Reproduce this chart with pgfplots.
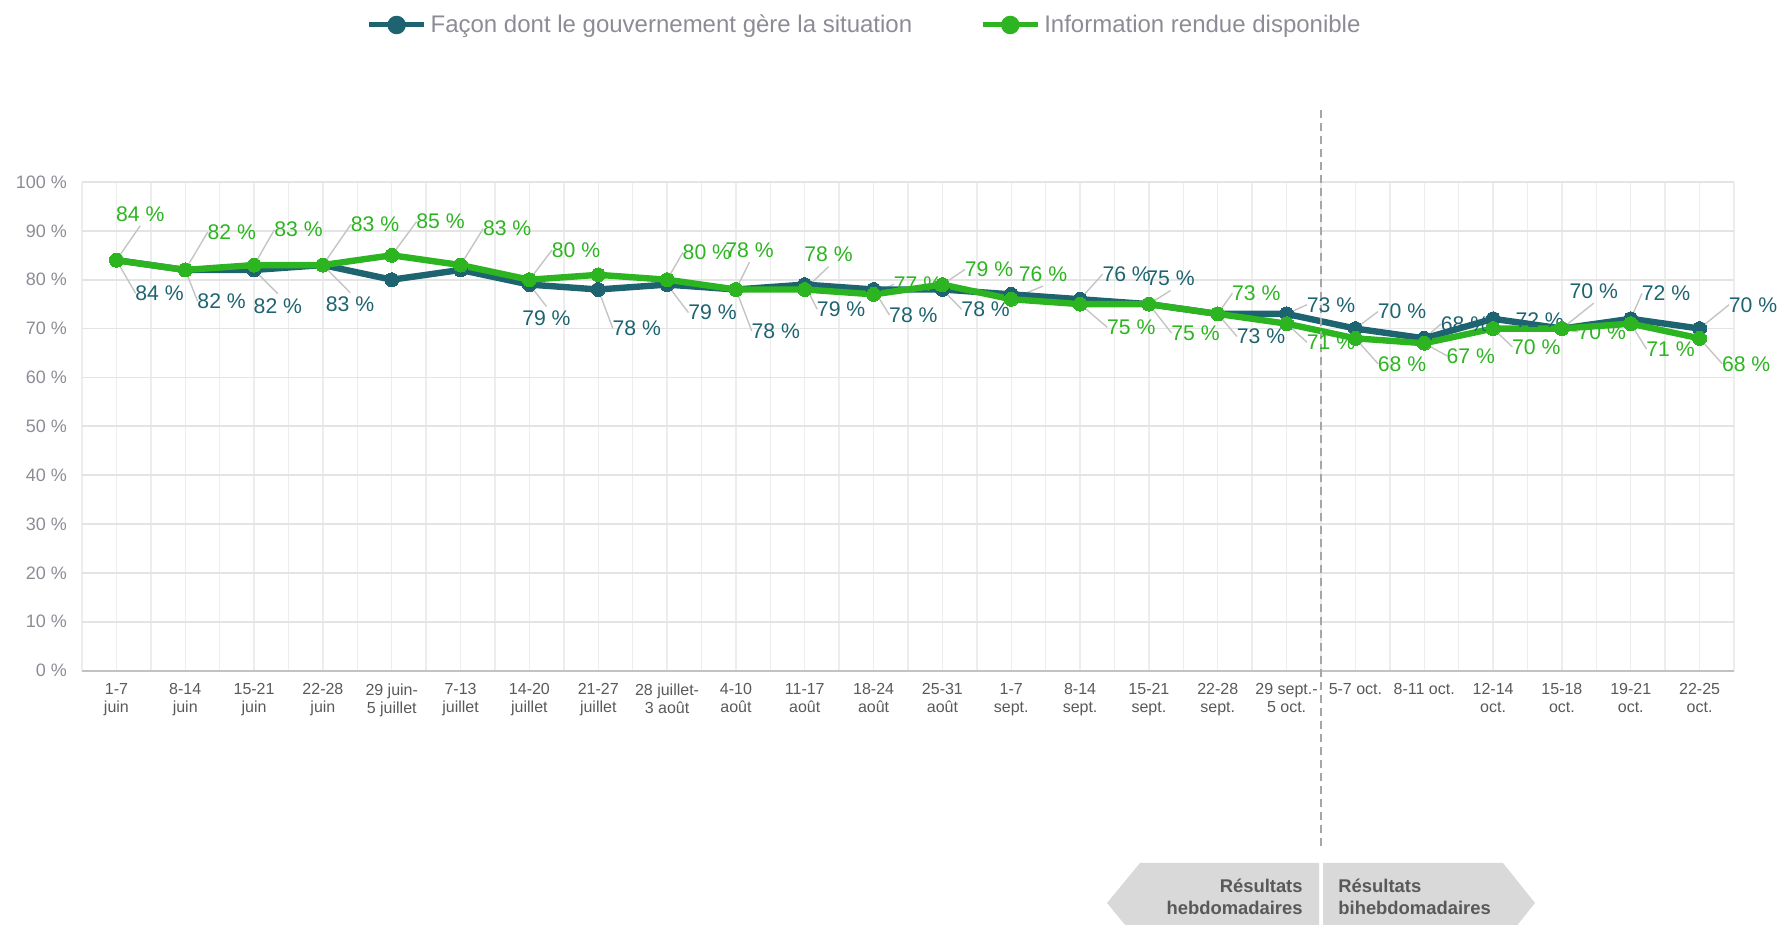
\documentclass[border=0pt]{standalone}
\usepackage{fontspec}
\setmainfont{Liberation Sans}
\usepackage{pgfplots}
\usepackage{pgfplotstable}
\pgfplotsset{compat=1.18}
\definecolor{govc}{HTML}{1E6470}
\definecolor{infoc}{HTML}{2CB520}
\definecolor{leader}{HTML}{C4C4C4}
\definecolor{legc}{HTML}{8C8C96}
\definecolor{ytc}{HTML}{8C8C96}
\definecolor{xtc}{HTML}{595959}
\definecolor{hgrid}{HTML}{E4E4E4}
\definecolor{vgrid}{HTML}{EDEDED}
\definecolor{arrowfill}{HTML}{D9D9D9}
\definecolor{sepc}{HTML}{A6A6A6}

\pgfplotstableread{
x y show dx dy lx ly
0 84 1 21.6 -16.6 9.6 -16.6
1 82 1 18.2 -15.7 6.2 -15.7
2 82 1 11.9 -17.9 11.9 -11.9
3 83 1 13.6 -19.8 13.6 -13.8
4 80 0 0 0 0 0
5 82 0 0 0 0 0
6 79 1 8.5 -16.9 8.5 -10.9
7 78 1 19.3 -19.5 7.3 -19.5
8 79 1 22.7 -14.0 10.7 -14.0
9 78 1 19.9 -20.7 7.9 -20.7
10 79 1 18.2 -12.3 6.2 -12.3
11 78 1 19.9 -12.7 7.9 -12.7
12 78 1 21.6 -9.9 9.6 -9.9
13 77 0 0 0 0 0
14 76 1 23.3 12.6 11.3 12.6
15 75 1 10.8 12.8 10.8 6.8
16 73 1 21.6 -11.3 9.6 -11.3
17 73 1 22.2 4.6 10.2 4.6
18 70 1 23.3 8.5 11.3 8.5
19 68 1 20.4 7.2 8.4 7.2
20 72 1 23.3 -0.9 11.3 -0.9
21 70 1 15.9 18.7 15.9 12.7
22 72 1 17.6 12.7 5.6 12.7
23 70 1 26.7 11.9 14.7 11.9
}\govt

\pgfplotstableread{
x y show dx dy lx ly
0 84 1 11.9 23.2 11.9 17.2
1 82 1 23.3 19.0 11.3 19.0
2 83 1 22.2 17.7 10.2 17.7
3 83 1 26.1 20.5 14.1 20.5
4 85 1 24.4 16.8 12.4 16.8
5 83 1 23.3 18.2 11.3 18.2
6 80 1 23.3 14.8 11.3 14.8
7 81 0 0 0 0 0
8 80 1 19.9 13.6 7.9 13.6
9 78 1 6.8 19.7 6.8 13.7
10 78 1 11.9 17.4 11.9 11.4
11 77 1 22.2 5.1 10.2 5.1
12 79 1 23.3 7.6 11.3 7.6
13 76 1 15.9 12.6 15.9 6.6
14 75 1 25.6 -11.6 13.6 -11.6
15 75 1 23.3 -14.5 11.3 -14.5
16 73 1 19.3 10.3 7.3 10.3
17 71 1 22.2 -9.3 10.2 -9.3
18 68 1 23.3 -12.7 11.3 -12.7
19 67 1 23.3 -6.3 11.3 -6.3
20 70 1 21.6 -9.1 9.6 -9.1
21 70 1 19.9 -1.7 7.9 -1.7
22 71 1 19.9 -12.7 7.9 -12.7
23 68 1 23.3 -12.7 11.3 -12.7
}\infot

\begin{document}
\begin{tikzpicture}
\useasboundingbox (0,0) rectangle (891pt,462.5pt);
\begin{axis}[
  at={(41pt,127.2pt)}, anchor=south west,
  scale only axis, width=826pt, height=244.3pt,
  xmin=-0.5, xmax=23.5, ymin=0, ymax=100,
  clip=false,
  /pgf/number format/assume math mode=true,
  axis line style={draw=none},
  major tick length=0pt, minor tick length=0pt,
  xtick={0,...,23},
  minor xtick={-0.5,0.5,...,23.5},
  xticklabels={{1-7\\juin},{8-14\\juin},{15-21\\juin},{22-28\\juin},{29 juin-\\5 juillet},{7-13\\juillet},{14-20\\juillet},{21-27\\juillet},{28 juillet-\\3 août},{4-10\\août},{11-17\\août},{18-24\\août},{25-31\\août},{1-7\\sept.},{8-14\\sept.},{15-21\\sept.},{22-28\\sept.},{29 sept.-\\5 oct.},{5-7 oct.},{8-11 oct.},{12-14\\oct.},{15-18\\oct.},{19-21\\oct.},{22-25\\oct.}},
  xticklabel style={font=\fontsize{8}{9}\selectfont, text=xtc, align=center, anchor=north, yshift=-3pt},
  ytick={0,10,...,100},
  yticklabel={\pgfmathprintnumber{\tick}~\%},
  yticklabel style={font=\fontsize{9}{10}\selectfont, text=ytc, xshift=-4pt},
  xmajorgrids, xminorgrids, ymajorgrids,
  x grid style={draw=vgrid, line width=0.7pt},
  minor x grid style={draw=vgrid, line width=0.7pt},
  y grid style={draw=hgrid, line width=0.9pt},
  legend style={at={(0.4743,1.3213)}, anchor=center, draw=none, fill=none,
    legend columns=2, font=\fontsize{12}{13}\selectfont, text=legc,
    inner sep=0pt, /tikz/every even column/.append style={column sep=32pt},
    /tikz/every odd column/.append style={column sep=0pt}},
  legend cell align=left,
]
% leader lines
\addplot[forget plot, draw=leader, line width=0.7pt, mark=none,
  quiver={u=\thisrow{lx}/34.4167, v=\thisrow{ly}/2.443}] table[x=x,y=y]{\govt};
\addplot[forget plot, draw=leader, line width=0.7pt, mark=none,
  quiver={u=\thisrow{lx}/34.4167, v=\thisrow{ly}/2.443}] table[x=x,y=y]{\infot};
% series
\addplot[govc, line width=3.2pt, mark=*, mark size=3.5pt, mark options={solid, fill=govc, line width=0pt},
  visualization depends on={\thisrow{show}\as\lshow},
  visualization depends on={\thisrow{dx}\as\ldx},
  visualization depends on={\thisrow{dy}\as\ldy},
  nodes near coords={\ifdim\lshow pt>0.5pt \pgfmathprintnumber{\pgfplotspointmeta}~\%\fi},
  every node near coord/.append style={anchor=center, xshift=\ldx pt, yshift=\ldy pt, font=\fontsize{10.6}{12}\selectfont, text=govc, inner sep=0pt},
  legend image code/.code={\draw[govc, line width=2.5pt] (0pt,0pt) -- (27.5pt,0pt); \fill[govc] (13.75pt,0pt) circle (3pt);},
] table[x=x,y=y]{\govt};
\addlegendentry{Façon dont le gouvernement gère la situation}
\addplot[infoc, line width=3.2pt, mark=*, mark size=3.5pt, mark options={solid, fill=infoc, line width=0pt},
  visualization depends on={\thisrow{show}\as\lshow},
  visualization depends on={\thisrow{dx}\as\ldx},
  visualization depends on={\thisrow{dy}\as\ldy},
  nodes near coords={\ifdim\lshow pt>0.5pt \pgfmathprintnumber{\pgfplotspointmeta}~\%\fi},
  every node near coord/.append style={anchor=center, xshift=\ldx pt, yshift=\ldy pt, font=\fontsize{10.6}{12}\selectfont, text=infoc, inner sep=0pt},
  legend image code/.code={\draw[infoc, line width=2.5pt] (0pt,0pt) -- (27.5pt,0pt); \fill[infoc] (13.75pt,0pt) circle (3pt);},
] table[x=x,y=y]{\infot};
\addlegendentry{Information rendue disponible}
% bottom axis line and separator
\draw[draw=hgrid!85!black, line width=1pt] (rel axis cs:0,0) -- (rel axis cs:1,0);
\draw[sepc, line width=1pt, dash pattern=on 4pt off 2.5pt] (axis cs:17.5,-36) -- (axis cs:17.5,115);
\end{axis}
% bottom arrows
\fill[arrowfill] (553.5pt,11pt) -- (570pt,31pt) -- (659.5pt,31pt) -- (659.5pt,-9pt) -- (570pt,-9pt) -- cycle;
\fill[arrowfill] (661.5pt,31pt) -- (751.5pt,31pt) -- (767.5pt,11pt) -- (751.5pt,-9pt) -- (661.5pt,-9pt) -- cycle;
\node[anchor=east, align=right, inner sep=0pt, font=\fontsize{9.2}{11}\selectfont\bfseries, text=xtc] at (651.5pt,14pt) {Résultats\\hebdomadaires};
\node[anchor=west, align=left, inner sep=0pt, font=\fontsize{9.2}{11}\selectfont\bfseries, text=xtc] at (669pt,14pt) {Résultats\\bihebdomadaires};
\end{tikzpicture}
\end{document}
